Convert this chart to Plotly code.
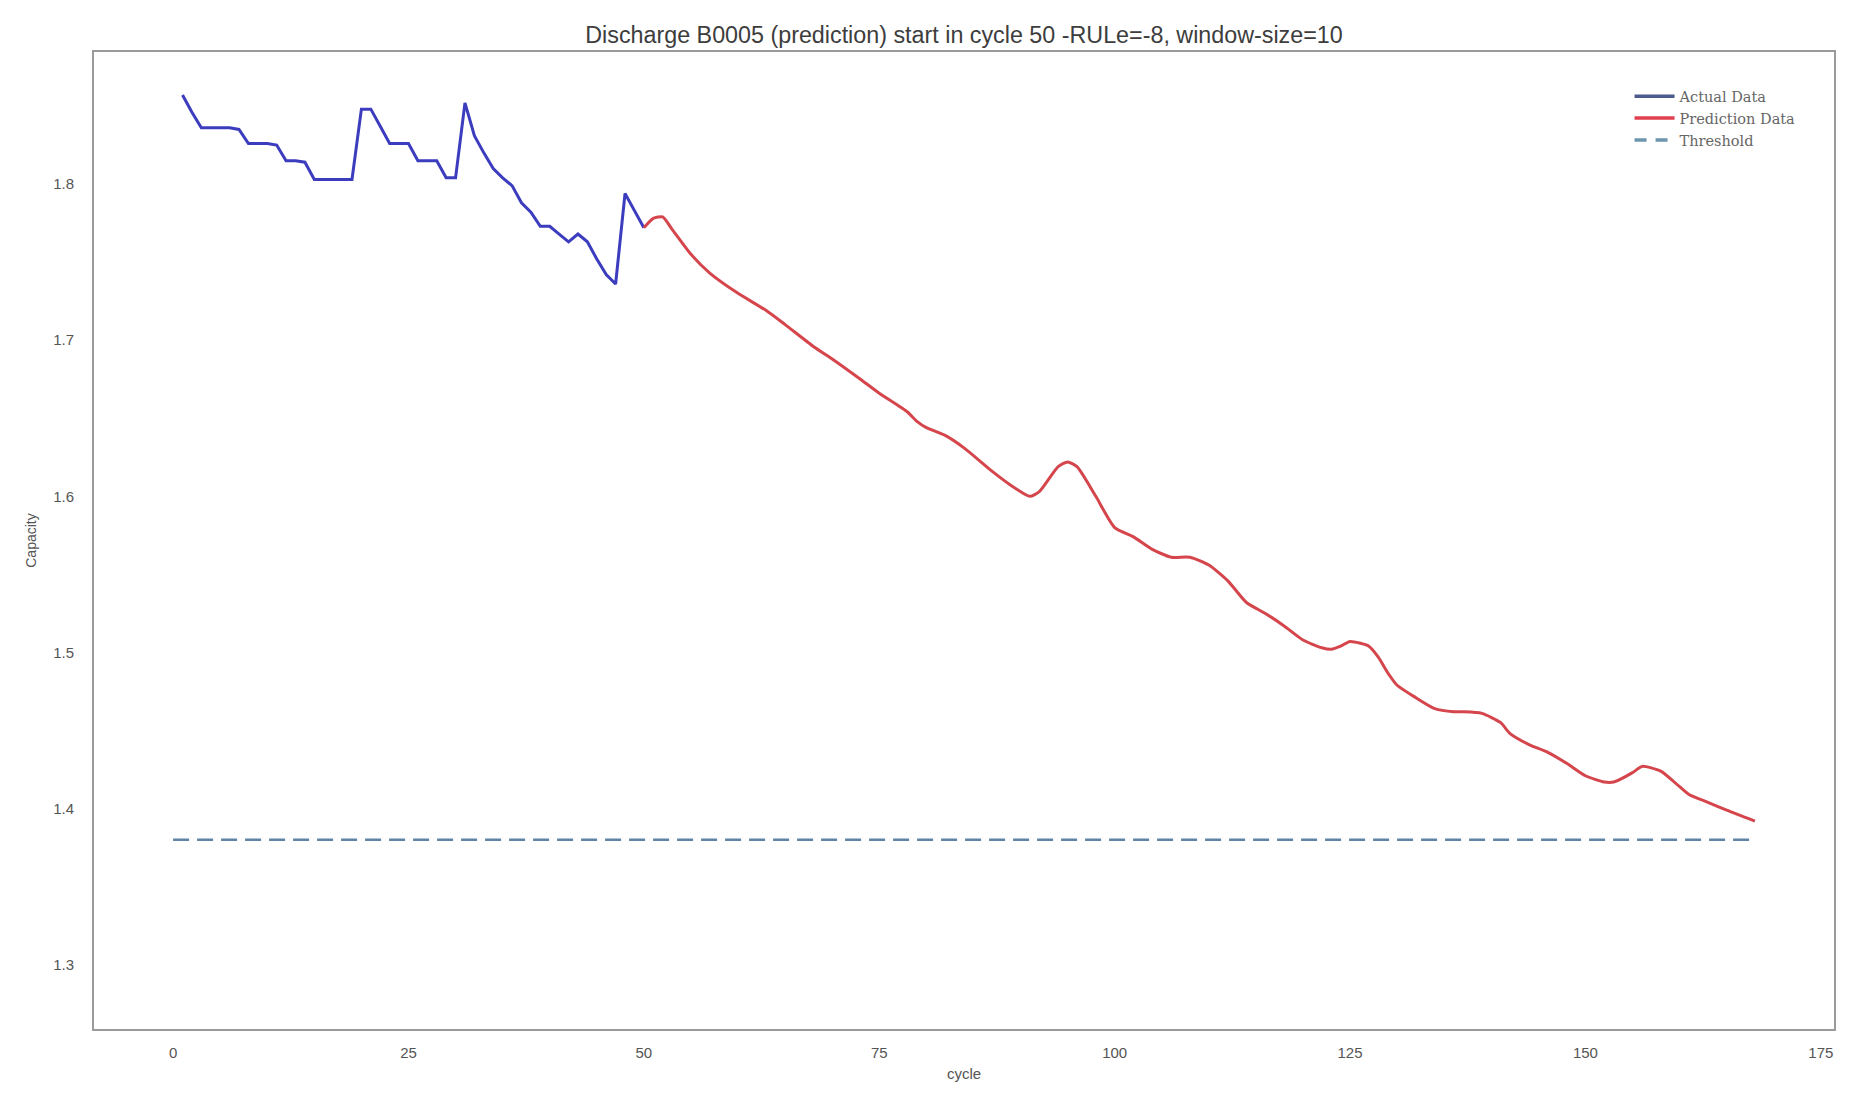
import plotly.graph_objects as go

actual_cycles = list(range(1, 51))
actual_capacity = [
    1.857, 1.846, 1.836, 1.836, 1.836, 1.836, 1.835, 1.826, 1.826, 1.826,
    1.825, 1.815, 1.815, 1.814, 1.803, 1.803, 1.803, 1.803, 1.803, 1.848,
    1.848, 1.837, 1.826, 1.826, 1.826, 1.815, 1.815, 1.815, 1.804, 1.804,
    1.852, 1.831, 1.820, 1.810, 1.804, 1.799, 1.788, 1.782, 1.773, 1.773,
    1.768, 1.763, 1.768, 1.763, 1.752, 1.742, 1.736, 1.794, 1.783, 1.772,
]

pred_cycles = [50, 51, 52, 53, 55, 57, 60, 63, 65, 68, 70, 73, 75, 78, 79, 80, 82, 84,
               87, 89, 91, 92, 94, 95, 96, 98, 100, 102, 104, 106, 108, 110, 112, 114,
               116, 118, 120, 122, 123, 124, 125, 127, 128, 129, 130, 132, 134, 136, 137,
               139, 141, 142, 144, 146, 148, 150, 152, 153, 155, 156, 158, 160, 161, 163,
               165, 168]
pred_capacity = [1.772, 1.778, 1.779, 1.771, 1.755, 1.743, 1.730, 1.719, 1.710, 1.696,
                 1.688, 1.675, 1.666, 1.654, 1.648, 1.644, 1.639, 1.631, 1.616, 1.607,
                 1.600, 1.603, 1.619, 1.622, 1.619, 1.600, 1.580, 1.574, 1.566, 1.561,
                 1.561, 1.556, 1.546, 1.532, 1.525, 1.517, 1.508, 1.503, 1.502, 1.504,
                 1.507, 1.504, 1.497, 1.487, 1.479, 1.471, 1.464, 1.462, 1.462, 1.461,
                 1.455, 1.448, 1.441, 1.436, 1.429, 1.421, 1.417, 1.417, 1.423, 1.427,
                 1.424, 1.414, 1.409, 1.404, 1.399, 1.392]

threshold_cycles = [0, 168]
threshold_value = [1.38, 1.38]

x_ticks = [0, 25, 50, 75, 100, 125, 150, 175]
y_ticks = [1.3, 1.4, 1.5, 1.6, 1.7, 1.8]

title_text = "Discharge B0005 (prediction) start in cycle 50 -RULe=-8, window-size=10"

W, H = 1850, 1091

fig = go.Figure()
fig.add_trace(go.Scatter(x=actual_cycles, y=actual_capacity, mode="lines",
                         name="Actual Data", line=dict(color="#3c3cbe", width=3),
                         showlegend=False))
fig.add_trace(go.Scatter(x=pred_cycles, y=pred_capacity, mode="lines",
                         name="Prediction Data", line=dict(color="#d5454c", width=3, shape="spline", smoothing=0.6),
                         showlegend=False))
fig.add_trace(go.Scatter(x=threshold_cycles, y=threshold_value, mode="lines",
                         name="Threshold", line=dict(color="#5f84a6", width=2.6, dash="16px,8px"),
                         showlegend=False))
# legend entries
fig.add_trace(go.Scatter(x=[None], y=[None], mode="lines", name="Actual Data",
                         line=dict(color="#4d5b8c", width=3.5)))
fig.add_trace(go.Scatter(x=[None], y=[None], mode="lines", name="Prediction Data",
                         line=dict(color="#e0404f", width=3.5)))
fig.add_trace(go.Scatter(x=[None], y=[None], mode="lines", name="Threshold",
                         line=dict(color="#6d95ae", width=3.5, dash="12px,9px")))

axis_common = dict(showgrid=False, zeroline=False, showline=True, linecolor="#9a9a9a",
                   linewidth=2, mirror=True, ticks="outside", tickcolor="rgba(0,0,0,0)",
                   tickfont=dict(family="Liberation Sans, Arial", size=15, color="#555555"))

fig.update_layout(
    width=W, height=H,
    paper_bgcolor="white", plot_bgcolor="white",
    margin=dict(l=86, r=24, t=44, b=70),
    title=dict(text=title_text, xref="paper", x=0.5, xanchor="center", y=1 - 26.5 / H, yanchor="middle",
               font=dict(family="Liberation Sans, Arial", size=23.3, color="#3d3d3d")),
    xaxis=dict(range=[-8.4, 176.4], tickvals=x_ticks, ticklen=9,
               title=dict(text="cycle", font=dict(family="Liberation Sans, Arial", size=15, color="#555555"), standoff=8),
               **axis_common),
    yaxis=dict(range=[1.2588, 1.8846], tickvals=y_ticks, tickformat=".1f", ticklen=15,
               title=dict(text="Capacity", font=dict(family="Liberation Sans, Arial", size=14, color="#555555"), standoff=13),
               **axis_common),
    legend=dict(x=0.8825, y=0.971, xanchor="left", yanchor="top", bgcolor="rgba(0,0,0,0)",
                font=dict(family="DejaVu Serif", size=14.5, color="#666666"),
                tracegroupgap=0, itemwidth=40),
    showlegend=True,
)

fig.write_html("out.html")
